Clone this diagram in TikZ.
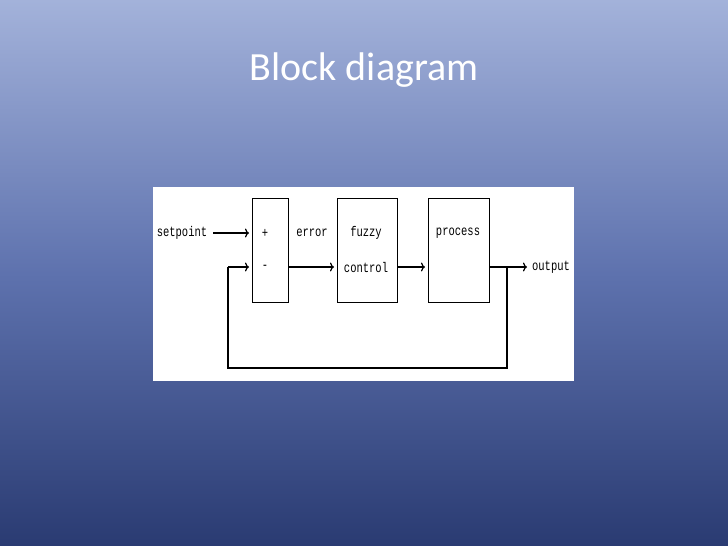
\documentclass[tikz,border=0pt]{standalone}
\usepackage{fontspec}
\usetikzlibrary{arrows.meta}
\setmainfont{Carlito}
\newfontfamily\monof{Liberation Mono}
\definecolor{bgtop}{HTML}{A3B2DA}
\definecolor{bgmid}{HTML}{5E72AE}
\definecolor{bgbot}{HTML}{2A3B72}
\begin{document}
\begin{tikzpicture}[x=1pt,y=-1pt,
  blk/.style={draw,line width=1.2pt,minimum width=#1,minimum height=104,inner sep=0,anchor=north west},
  lbl/.style={font=\monof\fontsize{14}{14}\selectfont,inner sep=1pt,xscale=0.75},
  arr/.style={-{To[length=4pt,width=9pt,open]},line width=1.2pt},
  ln/.style={line width=1.2pt}]
\useasboundingbox (0,0) rectangle (728,546);
\shade[top color=bgtop,bottom color=bgbot,middle color=bgmid] (0,0) rectangle (728,546);
\node[text=white,font=\fontsize{40}{40}\selectfont] (title) at (364,70) {Block diagram};
\fill[white] (153,187) rectangle (574,381);
\node[blk=36] (sum) at (252,198) {};
\node[blk=60] (fz) at (337,198) {};
\node[blk=61] (pr) at (428,198) {};
\node[lbl] (sp) at (182,233) {setpoint};
\node[lbl] (plus) at (265,233) {+};
\node[lbl] (minus) at (265,267) {-};
\node[lbl] (err) at (312,233) {error};
\node[lbl] (fz1) at (366,233) {fuzzy};
\node[lbl] (fz2) at (366,267) {control};
\node[lbl] (pt) at (458,233) {process};
\node[lbl] (out) at (551,267) {output};
\coordinate (spa) at (213,233);
\coordinate (sumin1) at (252,233);
\coordinate (sumin2) at (252,267);
\coordinate (sumout) at (288,267);
\coordinate (fzin) at (337,267);
\coordinate (fzout) at (397,267);
\coordinate (prin) at (428,267);
\coordinate (prout) at (489,267);
\coordinate (tap) at (507,267);
\coordinate (fbl) at (228,267);
\coordinate (outend) at (527,267);
\draw[arr] (spa) -- ([xshift=-3]sumin1);
\draw[arr] (sumout) -- ([xshift=-3]fzin);
\draw[arr] (fzout) -- ([xshift=-3]prin);
\draw[arr] (prout) -- (outend);
\draw[ln] (tap) -- (507,368) -- (228,368) -- (fbl);
\draw[arr] (fbl) -- ([xshift=-3]sumin2);
\end{tikzpicture}
\end{document}
